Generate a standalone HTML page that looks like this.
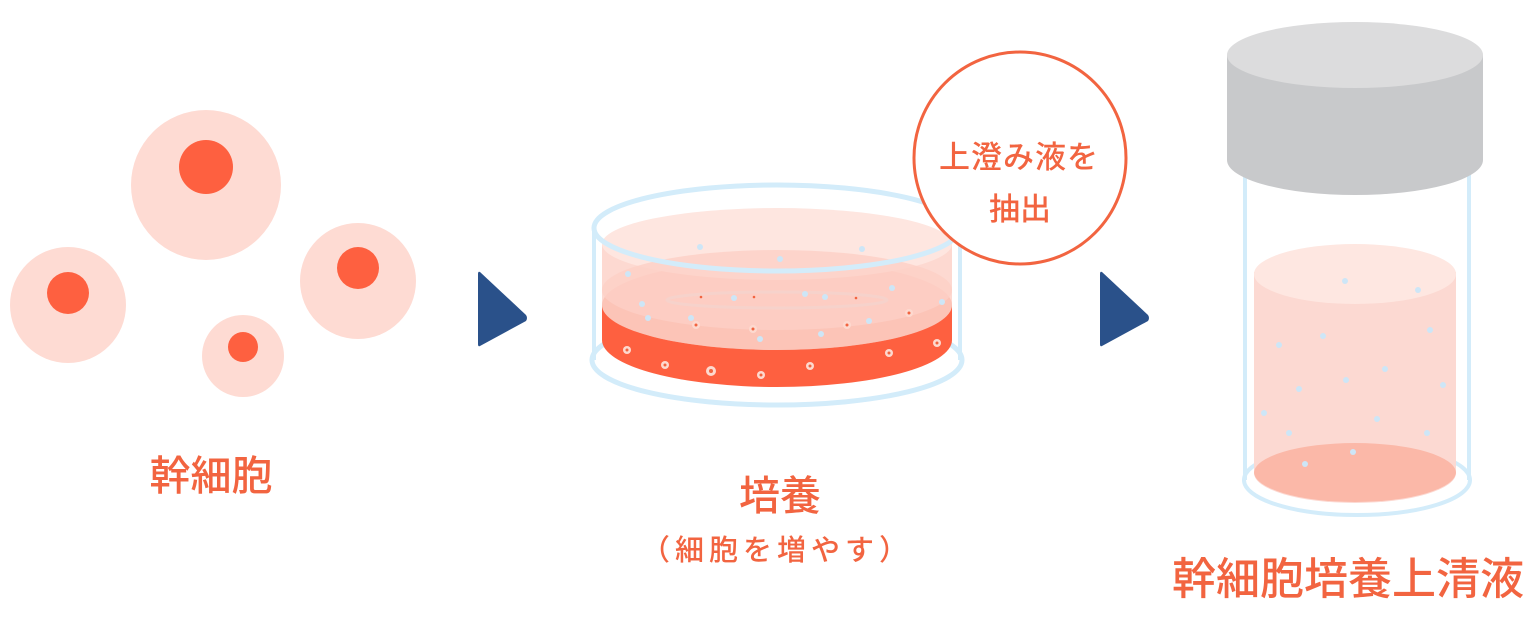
<!DOCTYPE html>
<html><head><meta charset="utf-8"><style>
html,body{margin:0;padding:0;background:#fff;width:1528px;height:620px;overflow:hidden}
text{font-family:"Liberation Sans","Noto Sans CJK JP",sans-serif;fill:#f26440;font-weight:500}
</style></head><body>
<svg width="1528" height="620" viewBox="0 0 1528 620" xmlns="http://www.w3.org/2000/svg">
<!-- cells -->
<circle cx="206" cy="185" r="75" fill="#fedbd3"/><circle cx="206" cy="167" r="27" fill="#fe6040"/>
<circle cx="68" cy="305" r="58" fill="#fedbd3"/><circle cx="68" cy="293" r="21" fill="#fe6040"/>
<circle cx="358" cy="281" r="58" fill="#fedbd3"/><circle cx="358" cy="268" r="21" fill="#fe6040"/>
<circle cx="243" cy="356" r="41" fill="#fedbd3"/><circle cx="243" cy="347" r="15" fill="#fe6040"/>
<text x="211" y="490" font-size="41" text-anchor="middle">幹細胞</text>
<!-- arrows -->
<path d="M480 272 L526 315 Q528 318 526 321 L480 346 Q478 347 478 344 L478 274 Q478 271 480 272Z" fill="#2a518a"/>
<path d="M1102 272 L1148 315 Q1150 318 1148 321 L1102 346 Q1100 347 1100 344 L1100 274 Q1100 271 1102 272Z" fill="#2a518a"/>
<!-- dish -->
<ellipse cx="777" cy="360" rx="185" ry="45" fill="none" stroke="#d3ecfa" stroke-width="5"/>
<path d="M602 305 L602 340 A175 47 0 0 0 952 340 L952 305Z" fill="#fe6040"/>
<ellipse cx="777" cy="305" rx="175" ry="45" fill="#fbb8a8"/>
<path d="M602 244 L602 305 A175 45 0 0 0 952 305 L952 244Z" fill="#fcc9bd" opacity="0.7"/>
<ellipse cx="777" cy="244" rx="175" ry="36" fill="#fee6e0"/>
<ellipse cx="777" cy="290" rx="175" ry="40" fill="#fcd0c5" opacity="0.8"/>
<ellipse cx="777" cy="300" rx="110" ry="8" fill="none" stroke="#f6d2cb" stroke-width="3"/>
<ellipse cx="777" cy="228" rx="183" ry="43" fill="none" stroke="#d3ecfa" stroke-width="5"/>
<line x1="594" y1="228" x2="594" y2="360" stroke="#d3ecfa" stroke-width="4"/>
<line x1="960" y1="228" x2="960" y2="360" stroke="#d3ecfa" stroke-width="4"/>
<g fill="#cde6f7">
<circle cx="700" cy="247" r="3"/><circle cx="862" cy="249" r="3"/><circle cx="780" cy="259" r="3"/><circle cx="628" cy="274" r="3"/>
<circle cx="734" cy="298" r="3"/><circle cx="805" cy="294" r="3"/><circle cx="825" cy="297" r="3"/><circle cx="892" cy="288" r="3"/><circle cx="942" cy="302" r="3"/>
<circle cx="642" cy="304" r="3"/><circle cx="648" cy="318" r="3"/><circle cx="691" cy="318" r="3"/><circle cx="760" cy="339" r="3"/><circle cx="821" cy="334" r="3"/><circle cx="869" cy="321" r="3"/>
</g>
<g fill="#fdd9cf">
<circle cx="627" cy="350" r="4"/><circle cx="665" cy="365" r="4"/><circle cx="711" cy="371" r="5"/><circle cx="761" cy="375" r="4"/><circle cx="810" cy="366" r="4"/><circle cx="889" cy="353" r="4"/><circle cx="937" cy="343" r="4"/>
<circle cx="696" cy="325" r="4"/><circle cx="753" cy="329" r="4"/><circle cx="847" cy="325" r="4"/><circle cx="909" cy="313" r="4"/>
</g>
<g fill="#f26440"><circle cx="627" cy="350" r="1.5"/><circle cx="665" cy="365" r="1.5"/><circle cx="711" cy="371" r="2"/><circle cx="761" cy="375" r="1.5"/><circle cx="810" cy="366" r="1.5"/><circle cx="889" cy="353" r="1.5"/><circle cx="937" cy="343" r="1.5"/><circle cx="696" cy="325" r="1.5"/><circle cx="753" cy="329" r="1.5"/><circle cx="847" cy="325" r="1.5"/><circle cx="909" cy="313" r="1.5"/><circle cx="701" cy="297" r="1.3"/><circle cx="754" cy="297" r="1.3"/><circle cx="856" cy="298" r="1.3"/></g>
<text x="780" y="510" font-size="41" text-anchor="middle">培養</text>
<text x="777" y="560" font-size="29" letter-spacing="5" text-anchor="middle">（細胞を増やす）</text>
<!-- circle label -->
<circle cx="1020" cy="158" r="106" fill="#fff" stroke="#f26440" stroke-width="3"/>
<text x="1019" y="168" font-size="31" letter-spacing="1" text-anchor="middle">上澄み液を</text>
<text x="1020" y="220" font-size="31" text-anchor="middle">抽出</text>
<!-- bottle -->
<ellipse cx="1357" cy="480" rx="113" ry="35" fill="none" stroke="#d3ecfa" stroke-width="4"/>
<line x1="1245" y1="170" x2="1245" y2="480" stroke="#d3ecfa" stroke-width="4"/>
<line x1="1469" y1="170" x2="1469" y2="480" stroke="#d3ecfa" stroke-width="4"/>
<path d="M1254 272 L1254 473 A101 30 0 0 0 1456 473 L1456 272Z" fill="#fcd9d2"/>
<ellipse cx="1355" cy="472" rx="101" ry="30" fill="#fbb8a8"/>
<path d="M1254 272 L1254 473 A101 30 0 0 1 1456 473 L1456 272Z" fill="#fcd9d2"/>
<ellipse cx="1355" cy="274" rx="101" ry="30" fill="#fee7e1"/>
<g fill="#cde6f7"><circle cx="1345" cy="281" r="3"/><circle cx="1418" cy="290" r="3"/><circle cx="1430" cy="330" r="3"/><circle cx="1323" cy="336" r="3"/><circle cx="1279" cy="345" r="3"/><circle cx="1385" cy="369" r="3"/><circle cx="1346" cy="380" r="3"/><circle cx="1299" cy="389" r="3"/><circle cx="1443" cy="385" r="3"/><circle cx="1264" cy="413" r="3"/><circle cx="1377" cy="419" r="3"/><circle cx="1289" cy="433" r="3"/><circle cx="1427" cy="433" r="3"/><circle cx="1353" cy="452" r="3"/><circle cx="1305" cy="464" r="3"/></g>
<path d="M1227 55 L1227 160 A128 35 0 0 0 1483 160 L1483 55Z" fill="#c8c9cb"/>
<ellipse cx="1355" cy="55" rx="128" ry="33" fill="#dcdcdd"/>
<text x="1348" y="594" font-size="44" text-anchor="middle">幹細胞培養上清液</text>
</svg>
</body></html>
